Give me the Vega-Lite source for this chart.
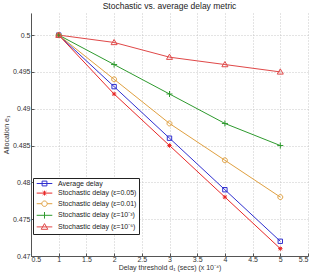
{
  "$schema": "https://vega.github.io/schema/vega-lite/v6.json",
  "width": 277,
  "height": 243,
  "autosize": "none",
  "padding": {"left": 31, "top": 13, "right": 7, "bottom": 18},
  "background": "white",
  "title": {
    "text": "Stochastic vs. average delay metric",
    "fontSize": 8.5,
    "fontWeight": "normal",
    "font": "Liberation Sans",
    "color": "#222",
    "offset": 3
  },
  "config": {
    "font": "Liberation Sans",
    "view": {"stroke": null},
    "axis": {
      "domainColor": "#555",
      "tickColor": "#555",
      "tickSize": -3,
      "labelFontSize": 7,
      "labelColor": "#333",
      "titleFontSize": 7,
      "titleFontWeight": "normal",
      "titleColor": "#333",
      "gridColor": "#bbbbbb",
      "gridDash": [1, 2],
      "gridWidth": 0.8
    },
    "legend": {
      "title": null,
      "orient": "none",
      "legendX": 2,
      "legendY": 165,
      "strokeColor": "#222",
      "fillColor": "white",
      "padding": 2,
      "cornerRadius": 0,
      "labelFontSize": 7,
      "labelColor": "#222",
      "labelOffset": 10,
      "symbolSize": 36,
      "symbolOffset": 6,
      "symbolStrokeWidth": 1,
      "symbolFillColor": "transparent",
      "rowPadding": 0.6
    }
  },
  "data": {
    "values": [
      {"series": "Average delay", "d": 1, "e": 0.5},
      {"series": "Average delay", "d": 2, "e": 0.493},
      {"series": "Average delay", "d": 3, "e": 0.486},
      {"series": "Average delay", "d": 4, "e": 0.479},
      {"series": "Average delay", "d": 5, "e": 0.472},
      {"series": "Stochastic delay (ε=0.05)", "d": 1, "e": 0.5},
      {"series": "Stochastic delay (ε=0.05)", "d": 2, "e": 0.492},
      {"series": "Stochastic delay (ε=0.05)", "d": 3, "e": 0.485},
      {"series": "Stochastic delay (ε=0.05)", "d": 4, "e": 0.478},
      {"series": "Stochastic delay (ε=0.05)", "d": 5, "e": 0.471},
      {"series": "Stochastic delay (ε=0.01)", "d": 1, "e": 0.5},
      {"series": "Stochastic delay (ε=0.01)", "d": 2, "e": 0.494},
      {"series": "Stochastic delay (ε=0.01)", "d": 3, "e": 0.488},
      {"series": "Stochastic delay (ε=0.01)", "d": 4, "e": 0.483},
      {"series": "Stochastic delay (ε=0.01)", "d": 5, "e": 0.478},
      {"series": "Stochastic delay (ε=10⁻³)", "d": 1, "e": 0.5},
      {"series": "Stochastic delay (ε=10⁻³)", "d": 2, "e": 0.496},
      {"series": "Stochastic delay (ε=10⁻³)", "d": 3, "e": 0.492},
      {"series": "Stochastic delay (ε=10⁻³)", "d": 4, "e": 0.488},
      {"series": "Stochastic delay (ε=10⁻³)", "d": 5, "e": 0.485},
      {"series": "Stochastic delay (ε=10⁻⁶)", "d": 1, "e": 0.5},
      {"series": "Stochastic delay (ε=10⁻⁶)", "d": 2, "e": 0.499},
      {"series": "Stochastic delay (ε=10⁻⁶)", "d": 3, "e": 0.497},
      {"series": "Stochastic delay (ε=10⁻⁶)", "d": 4, "e": 0.496},
      {"series": "Stochastic delay (ε=10⁻⁶)", "d": 5, "e": 0.495}
    ]
  },
  "encoding": {
    "x": {
      "field": "d",
      "type": "quantitative",
      "scale": {"domain": [0.5, 5.5], "nice": false, "zero": false},
      "axis": {
        "values": [0.5, 1, 1.5, 2, 2.5, 3, 3.5, 4, 4.5, 5, 5.5],
        "format": ".1~f",
        "labelPadding": 2,
        "title": "Delay threshold d₁ (secs) (x 10⁻⁴)",
        "titlePadding": 1
      }
    },
    "y": {
      "field": "e",
      "type": "quantitative",
      "scale": {"domain": [0.47, 0.503], "nice": false, "zero": false},
      "axis": {
        "values": [0.47, 0.475, 0.48, 0.485, 0.49, 0.495, 0.5],
        "format": ".3~f",
        "labelPadding": 4,
        "title": "Allocation e₁",
        "titlePadding": 3
      }
    }
  },
  "layer": [
    {
      "mark": {"type": "line", "strokeWidth": 1},
      "encoding": {
        "color": {
          "field": "series",
          "type": "nominal",
          "scale": {
            "domain": ["Average delay", "Stochastic delay (ε=0.05)", "Stochastic delay (ε=0.01)", "Stochastic delay (ε=10⁻³)", "Stochastic delay (ε=10⁻⁶)"],
            "range": ["#3030d0", "#e82828", "#e0a040", "#2e9a2e", "#e04848"]
          },
          "legend": null
        }
      }
    },
    {
      "mark": {"type": "point", "filled": false, "strokeWidth": 1, "size": 30, "opacity": 1},
      "encoding": {
        "color": {"field": "series", "type": "nominal", "legend": null},
        "shape": {
          "field": "series",
          "type": "nominal",
          "scale": {
            "domain": ["Average delay", "Stochastic delay (ε=0.05)", "Stochastic delay (ε=0.01)", "Stochastic delay (ε=10⁻³)", "Stochastic delay (ε=10⁻⁶)"],
            "range": [
              "M-0.8,-0.8H0.8V0.8H-0.8Z",
              "M-0.8,0H0.8M0,-0.8V0.8M-0.6,-0.6L0.6,0.6M-0.6,0.6L0.6,-0.6",
              "M-0.9,0A0.9,0.9,0,1,1,0.9,0A0.9,0.9,0,1,1,-0.9,0Z",
              "M-1.1,0H1.1M0,-1.1V1.1",
              "M0,-1.1L1.1,0.8H-1.1Z"
            ]
          },
          "legend": null
        }
      }
    },
    {
      "transform": [{"filter": "false"}],
      "mark": {"type": "point", "filled": false, "strokeWidth": 1, "opacity": 1},
      "encoding": {
        "stroke": {
          "field": "series",
          "type": "nominal",
          "scale": {
            "domain": ["Average delay", "Stochastic delay (ε=0.05)", "Stochastic delay (ε=0.01)", "Stochastic delay (ε=10⁻³)", "Stochastic delay (ε=10⁻⁶)"],
            "range": ["#3030d0", "#e82828", "#e0a040", "#2e9a2e", "#e04848"]
          },
          "legend": {"title": null}
        },
        "shape": {
          "field": "series",
          "type": "nominal",
          "scale": {
            "domain": ["Average delay", "Stochastic delay (ε=0.05)", "Stochastic delay (ε=0.01)", "Stochastic delay (ε=10⁻³)", "Stochastic delay (ε=10⁻⁶)"],
            "range": [
              "M-2.6,0H2.6M-0.8,-0.8H0.8V0.8H-0.8Z",
              "M-2.6,0H2.6M0,-0.8V0.8M-0.6,-0.6L0.6,0.6M-0.6,0.6L0.6,-0.6",
              "M-2.6,0H-0.9M0.9,0H2.6M-0.9,0A0.9,0.9,0,1,1,0.9,0A0.9,0.9,0,1,1,-0.9,0Z",
              "M-2.6,0H2.6M0,-1.1V1.1",
              "M-2.6,0H2.6M0,-1.1L1.1,0.8H-1.1Z"
            ]
          },
          "legend": {"title": null}
        }
      }
    }
  ],
  "resolve": {"scale": {"shape": "independent", "stroke": "independent"}}
}
